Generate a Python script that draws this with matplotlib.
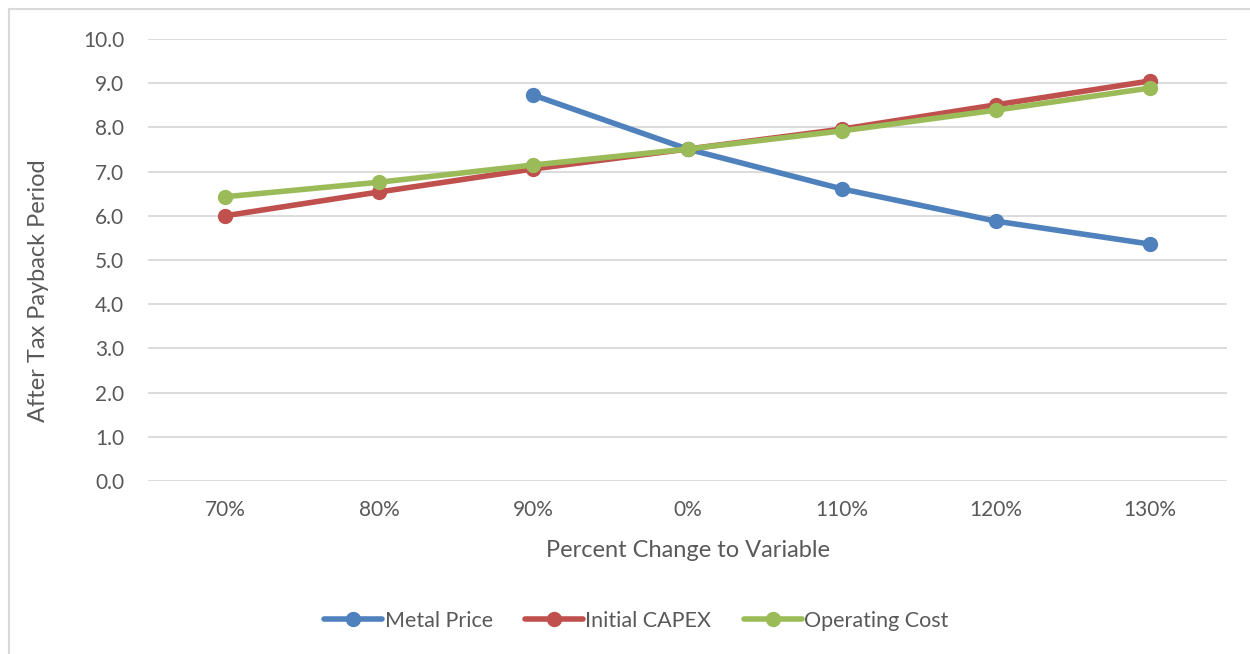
import matplotlib
matplotlib.use("Agg")
import matplotlib.pyplot as plt
from matplotlib.lines import Line2D

plt.rcParams['font.family'] = ['Lato', 'DejaVu Sans']

# Sensitivity data: after-tax payback period (years) by percent change
categories = ["70%", "80%", "90%", "0%", "110%", "120%", "130%"]
metal_price = [None, None, 8.73, 7.51, 6.61, 5.88, 5.36]
initial_capex = [6.00, 6.54, 7.06, 7.51, 7.96, 8.51, 9.05]
operating_cost = [6.43, 6.76, 7.15, 7.51, 7.92, 8.39, 8.89]
y_ticks = [0, 1, 2, 3, 4, 5, 6, 7, 8, 9, 10]

series = [
    ("Metal Price", metal_price, "#4F81BD"),
    ("Initial CAPEX", initial_capex, "#C0504D"),
    ("Operating Cost", operating_cost, "#9BBB59"),
]

text_color = "#595959"
grid_color = "#D9D9D9"

fig = plt.figure(figsize=(12.5, 6.54), dpi=100)
ax = fig.add_axes([0.1184, 0.2645, 0.8632, 0.6759])

x = list(range(len(categories)))
for name, vals, color in series:
    xs = [xi for xi, v in zip(x, vals) if v is not None]
    ys = [v for v in vals if v is not None]
    ax.plot(xs, ys, color=color, linewidth=4.0, marker="o", markersize=10,
            solid_capstyle="round", label=name, zorder=3)

ax.set_xlim(-0.5, len(categories) - 0.5)
ax.set_ylim(0, 10)
ax.set_yticks(y_ticks)
ax.set_yticklabels([f"{t:.1f}" for t in y_ticks])
ax.set_xticks(x)
ax.set_xticklabels(categories)
ax.yaxis.grid(True, color=grid_color, linewidth=1.3)
ax.set_axisbelow(True)
for s in ax.spines.values():
    s.set_visible(False)
ax.tick_params(axis="both", length=0, colors=text_color, labelsize=15)
ax.tick_params(axis="y", pad=17)
ax.tick_params(axis="x", pad=14)

ax.set_xlabel("Percent Change to Variable", fontsize=17, color=text_color, labelpad=14)
ax.set_ylabel("After Tax Payback Period", fontsize=17, color=text_color)
ax.yaxis.set_label_coords(-0.092, 0.43)

handles = [Line2D([0], [0], color=c, linewidth=4.0, marker="o", markersize=10,
                  solid_capstyle="round") for _, _, c in series]
leg = fig.legend(handles, [n for n, _, _ in series], loc="center",
                 bbox_to_anchor=(0.509, 0.0505), ncol=3, frameon=False,
                 fontsize=15.5, handlelength=2.7, handletextpad=0.1,
                 columnspacing=1.5)
for t in leg.get_texts():
    t.set_color(text_color)

# Chart frame edges
fig.add_artist(Line2D([0.0072, 0.0072], [0, 0.986], transform=fig.transFigure,
                      color=grid_color, linewidth=1.5))
fig.add_artist(Line2D([0.0072, 1.0], [0.986, 0.986], transform=fig.transFigure,
                      color=grid_color, linewidth=1.5))

fig.savefig("out.png", dpi=100, facecolor="white")
